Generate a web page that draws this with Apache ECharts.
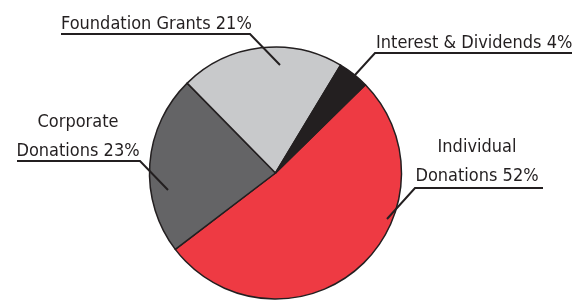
<!DOCTYPE html>
<html>
<head>
<meta charset="utf-8">
<script src="https://cdn.jsdelivr.net/npm/echarts@6/dist/echarts.min.js"></script>
<style>
  html, body { margin: 0; padding: 0; background: #fff; }
  #chart { width: 575px; height: 301px; }
</style>
</head>
<body>
<div id="chart"></div>
<script>
// slice order goes clockwise from the top-right edge of the red slice
var categories = ['Individual\nDonations', 'Corporate\nDonations', 'Foundation Grants', 'Interest & Dividends']
var values = [52, 23, 21, 4]
var colors = ['#ee3a43', '#646466', '#c8c9cb', '#231f20']

// where each label sits and how its leader line runs (inner end, elbow, end of underline)
var labelSpots = [
  { x: 477, y: 191, align: 'center', line: [[387, 219], [415, 188], [543, 188]] },
  { x: 78, y: 166, align: 'center', line: [[168, 190], [140, 161], [17, 161]] },
  { x: 61, y: 39, align: 'left', line: [[280, 65], [250, 34], [61, 34]] },
  { x: 376, y: 58, align: 'left', line: [[355, 75], [375, 53], [572, 53]] },
]

var pieData = categories.map(function (name, i) {
  return { name: name, value: values[i] }
})

var pieBase = {
  type: 'pie',
  center: [275.5, 173],
  radius: 126,
  startAngle: 44.5,
  clockwise: true,
}

var myChart = echarts.init(document.getElementById('chart'))
myChart.setOption({
  animation: false,
  color: colors,
  series: [
    // the slices
    Object.assign({}, pieBase, {
      z: 2,
      itemStyle: {
        borderColor: '#231f20',
        borderWidth: 1.5,
      },
      label: { show: false },
      labelLine: { show: false },
      data: pieData,
    }),
    // same pie, see-through, only to carry labels + leader lines above the slices
    Object.assign({}, pieBase, {
      z: 3,
      silent: true,
      itemStyle: { color: 'transparent', borderWidth: 0 },
      label: {
        formatter: '{b} {c}%',
        fontFamily: '"Liberation Sans Narrow", "DejaVu Sans Condensed", sans-serif',
        fontSize: 18,
        lineHeight: 29,
        width: 240,
        color: '#231f20',
      },
      labelLine: {
        show: true,
        lineStyle: { color: '#231f20', width: 2 },
      },
      labelLayout: function (params) {
        var s = labelSpots[params.dataIndex]
        return {
          x: s.x,
          y: s.y,
          align: s.align,
          verticalAlign: 'bottom',
          labelLinePoints: s.line,
        }
      },
      data: pieData,
    }),
  ],
})
</script>
</body>
</html>
